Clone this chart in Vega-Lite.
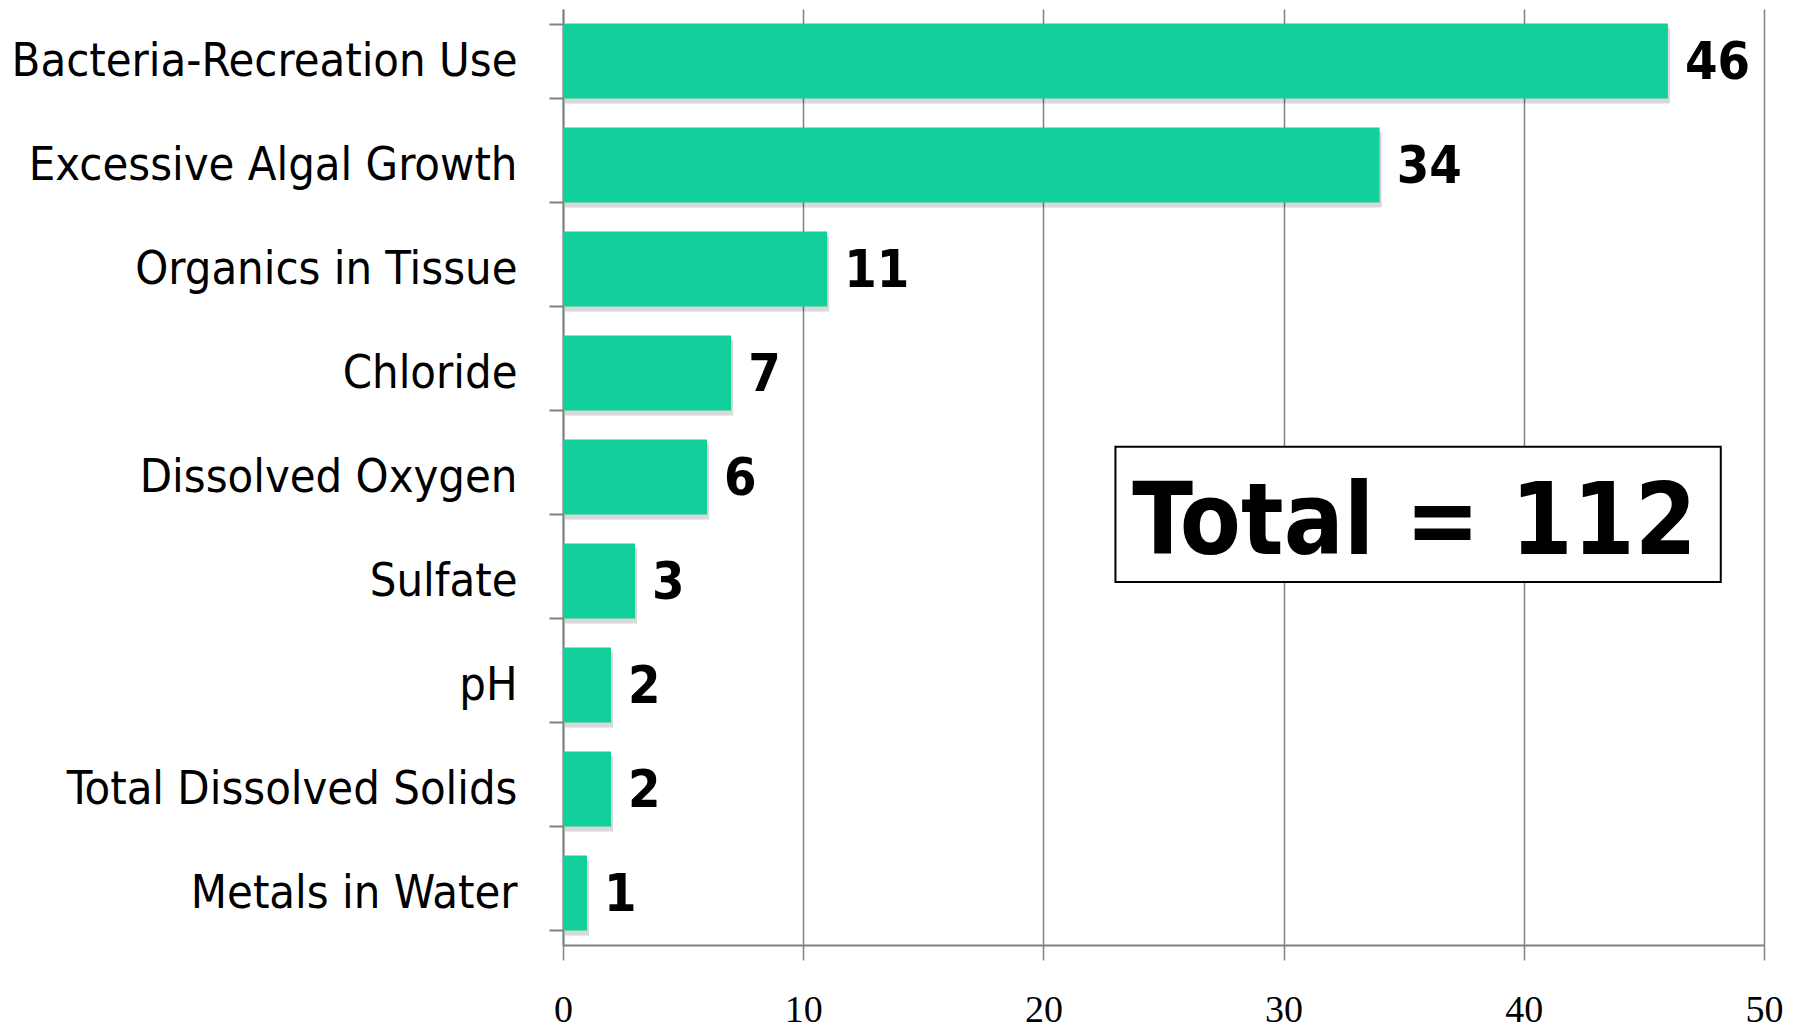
{
  "$schema": "https://vega.github.io/schema/vega-lite/v6.json",
  "width": 1201,
  "height": 936,
  "autosize": {"type": "none"},
  "padding": {"left": 563, "top": 9, "right": 44, "bottom": 86},
  "background": "white",
  "config": {"view": {"stroke": null}},
  "datasets": {
    "issues": [
      {"issue": "Bacteria-Recreation Use", "count": 46},
      {"issue": "Excessive Algal Growth", "count": 34},
      {"issue": "Organics in Tissue", "count": 11},
      {"issue": "Chloride", "count": 7},
      {"issue": "Dissolved Oxygen", "count": 6},
      {"issue": "Sulfate", "count": 3},
      {"issue": "pH", "count": 2},
      {"issue": "Total Dissolved Solids", "count": 2},
      {"issue": "Metals in Water", "count": 1}
    ],
    "note": [
      {"label": "Total = 112", "x1": 23, "x2": 48.2, "y1": 4.21, "y2": 5.51, "xc": 35.45, "yc": 4.95}
    ]
  },
  "layer": [
    {
      "data": {"name": "issues"},
      "encoding": {
        "y": {
          "field": "issue",
          "type": "nominal",
          "sort": null,
          "scale": {"paddingInner": 0.28, "paddingOuter": 0.14},
          "axis": {
            "title": null,
            "domainColor": "#808080",
            "domainWidth": 2,
            "tickColor": "#808080",
            "tickWidth": 2,
            "tickSize": 14,
            "tickBand": "extent",
            "labelFont": "DejaVu Sans Condensed",
            "labelFontSize": 46.7,
            "labelColor": "#000000",
            "labelPadding": 32,
            "labelLimit": 0
          }
        },
        "x": {
          "field": "count",
          "type": "quantitative",
          "scale": {"domain": [0, 50], "nice": false},
          "axis": {
            "title": null,
            "values": [0, 10, 20, 30, 40, 50],
            "grid": true,
            "gridColor": "#808080",
            "gridWidth": 1.5,
            "domainColor": "#808080",
            "domainWidth": 2,
            "tickColor": "#808080",
            "tickWidth": 1.5,
            "tickSize": 15,
            "labelFlush": false,
            "labelOverlap": false,
            "labelFont": "Liberation Serif",
            "labelFontSize": 38,
            "labelColor": "#000000",
            "labelPadding": 31
          }
        }
      },
      "layer": [
        {"mark": {"type": "bar", "color": "#000000", "opacity": 0.15, "xOffset": 2, "yOffset": 5}},
        {"mark": {"type": "bar", "color": "#13CF9B"}},
        {
          "mark": {"type": "text", "align": "left", "baseline": "middle", "dx": 17, "dy": 2, "font": "DejaVu Sans Condensed", "fontWeight": "bold", "fontSize": 52, "color": "#000000"},
          "encoding": {"text": {"field": "count", "type": "quantitative"}}
        }
      ]
    },
    {
      "data": {"name": "note"},
      "layer": [
        {
          "mark": {"type": "rect", "fill": "white", "stroke": "#000000", "strokeWidth": 2},
          "encoding": {
            "x": {"field": "x1", "type": "quantitative", "scale": {"domain": [0, 50], "nice": false}, "axis": null},
            "x2": {"field": "x2"},
            "y": {"field": "y1", "type": "quantitative", "scale": {"domain": [0, 9], "nice": false, "zero": false, "reverse": true}, "axis": null},
            "y2": {"field": "y2"}
          }
        },
        {
          "mark": {"type": "text", "align": "center", "baseline": "middle", "font": "DejaVu Sans Condensed", "fontWeight": "bold", "fontSize": 99, "color": "#000000"},
          "encoding": {
            "x": {"field": "xc", "type": "quantitative", "scale": {"domain": [0, 50], "nice": false}, "axis": null},
            "y": {"field": "yc", "type": "quantitative", "scale": {"domain": [0, 9], "nice": false, "zero": false, "reverse": true}, "axis": null},
            "text": {"field": "label"}
          }
        }
      ]
    }
  ],
  "resolve": {"scale": {"x": "independent", "y": "independent"}}
}
